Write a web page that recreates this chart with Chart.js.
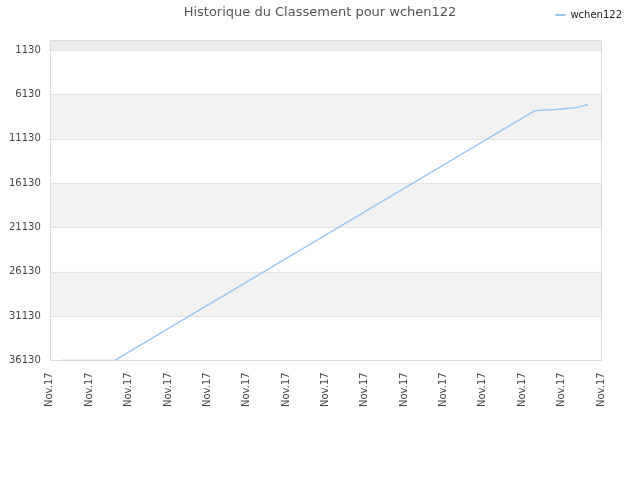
<!DOCTYPE html>
<html>
<head>
<meta charset="utf-8">
<script src="https://cdn.jsdelivr.net/npm/chart.js@4/dist/chart.umd.min.js"></script>
<style>
html,body{margin:0;padding:0;background:#fff;}
#wrap{width:640px;height:480px;}
</style>
</head>
<body>
<div id="wrap"><canvas id="c" width="640" height="480"></canvas></div>
<script>
const chartTitle = "Historique du Classement pour wchen122";
const seriesName = "wchen122";
const xTickLabels = ["Nov.17","Nov.17","Nov.17","Nov.17","Nov.17","Nov.17","Nov.17","Nov.17","Nov.17","Nov.17","Nov.17","Nov.17","Nov.17","Nov.17","Nov.17"];
const xValues = [0.30, 1.65, 12.32, 12.83, 13.19, 13.36, 13.67];
const rankValues = [36130, 36130, 7960, 7850, 7680, 7620, 7280];
const yTickValues = [1130, 6130, 11130, 16130, 21130, 26130, 31130, 36130];
const yMin = 0, yMax = 36130;

const FONT = "'DejaVu Sans', sans-serif";

const bandPlugin = {
  id: 'bands',
  beforeDatasetsDraw(chart) {
    const {ctx, chartArea: a, scales: {y}} = chart;
    ctx.save();
    const yt = y.getPixelForValue(yTickValues[0]);
    ctx.fillStyle = '#eeeeee';
    ctx.fillRect(a.left, a.top, a.right - a.left, yt - a.top);
    ctx.fillStyle = '#f2f2f2';
    for (let i = 1; i < yTickValues.length - 1; i += 2) {
      const p1 = y.getPixelForValue(yTickValues[i]);
      const p2 = y.getPixelForValue(yTickValues[i+1]);
      ctx.fillRect(a.left, p1, a.right - a.left, p2 - p1);
    }
    ctx.strokeStyle = '#e2e2e2';
    ctx.lineWidth = 1;
    yTickValues.forEach(v => {
      const p = Math.round(y.getPixelForValue(v)) + 0.5;
      ctx.beginPath(); ctx.moveTo(a.left, p); ctx.lineTo(a.right, p); ctx.stroke();
    });
    ctx.strokeStyle = '#dddddd';
    ctx.strokeRect(Math.round(a.left)+0.5, Math.round(a.top)+0.5, Math.round(a.right-a.left), Math.round(a.bottom-a.top));
    ctx.restore();
  },
  afterDraw(chart) {
    const ctx = chart.ctx;
    ctx.save();
    ctx.font = "13px " + FONT;
    ctx.fillStyle = '#555555';
    ctx.textAlign = 'center';
    ctx.textBaseline = 'middle';
    ctx.fillText(chartTitle, 320, 13);
    ctx.restore();
  }
};

new Chart(document.getElementById('c'), {
  type: 'line',
  data: {
    datasets: [{
      label: seriesName,
      data: xValues.map((x, i) => ({x: x, y: rankValues[i]})),
      borderColor: '#92c5f5',
      backgroundColor: '#92c5f5',
      borderWidth: 1.3,
      pointRadius: 0,
      tension: 0,
      fill: false
    }]
  },
  options: {
    responsive: false,
    animation: false,
    layout: {padding: {left: 0, right: 8, top: 0, bottom: 61}},
    plugins: {
      title: {display: false},
      legend: {
        position: 'top',
        align: 'end',
        labels: {
          usePointStyle: true,
          pointStyle: 'line',
          pointStyleWidth: 10,
          boxWidth: 10,
          font: {family: FONT, size: 10},
          color: '#222222',
          padding: 10,
          generateLabels(chart) {
            const items = Chart.defaults.plugins.legend.labels.generateLabels(chart);
            items.forEach(it => { it.lineWidth = 2; });
            return items;
          }
        }
      },
      tooltip: {enabled: false}
    },
    scales: {
      x: {
        type: 'linear',
        min: 0,
        max: xTickLabels.length - 1,
        grid: {display: false, drawTicks: false},
        border: {display: false},
        afterBuildTicks(scale) {
          scale.ticks = xTickLabels.map((_, i) => ({value: i}));
        },
        ticks: {
          autoSkip: false,
          minRotation: 90,
          maxRotation: 90,
          padding: 12,
          font: {family: FONT, size: 10},
          color: '#444444',
          callback: (v, i) => xTickLabels[i]
        }
      },
      xTop: {
        type: 'linear',
        position: 'top',
        display: true,
        grid: {display: false, drawTicks: false},
        border: {display: false},
        ticks: {display: false},
        afterFit(scale) { scale.height = 10; }
      },
      y: {
        reverse: true,
        min: yMin,
        max: yMax,
        grid: {display: false, drawTicks: false},
        border: {display: false},
        afterBuildTicks(scale) {
          scale.ticks = yTickValues.map(v => ({value: v}));
        },
        ticks: {
          padding: 9,
          font: {family: FONT, size: 10},
          color: '#444444',
          callback: v => String(v)
        }
      },
      yRight: {
        position: 'right',
        display: true,
        grid: {display: false, drawTicks: false},
        border: {display: false},
        ticks: {display: false},
        afterFit(scale) { scale.width = 31; }
      }
    }
  },
  plugins: [bandPlugin]
});
</script>
</body>
</html>
